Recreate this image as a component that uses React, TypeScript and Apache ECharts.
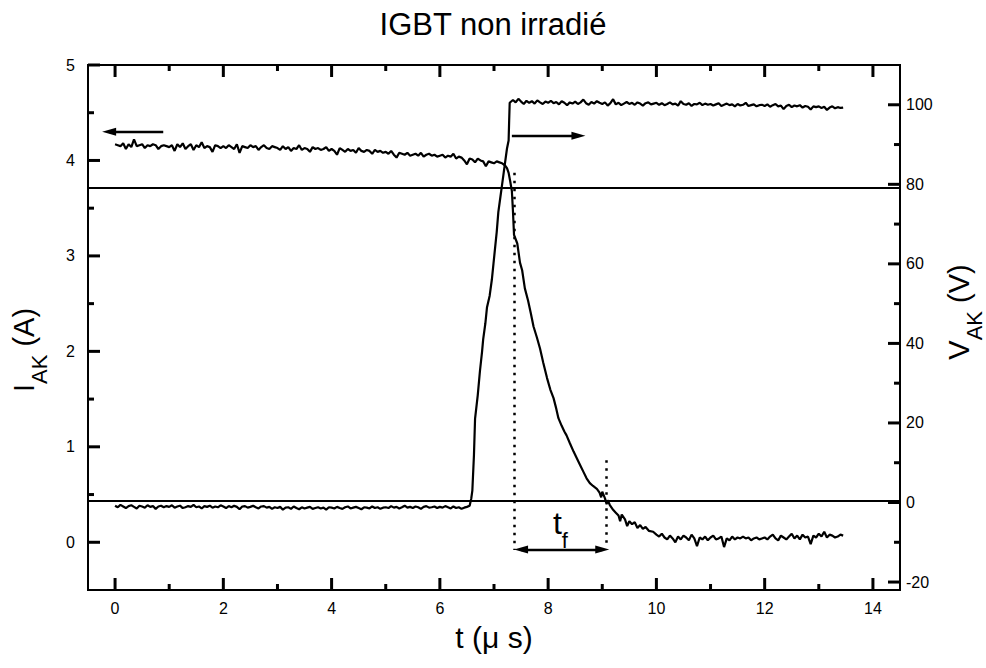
import React, { useEffect, useRef } from "react";
import * as echarts from "echarts";

const FONT = "'Liberation Sans', Arial, Helvetica, sans-serif";

// ---------- texts ----------
const TITLE = "IGBT non irradié";
const X_NAME = "t (μ s)";

// ---------- axis ranges and ticks ----------
const X_MIN = -0.5;
const X_MAX = 14.5;
const I_MIN = -0.5;
const I_MAX = 5;
const V_MIN = -22;
const V_MAX = 110;
const X_MAJOR = [0, 2, 4, 6, 8, 10, 12, 14];
const X_MINOR = [1, 3, 5, 7, 9, 11, 13];
const I_MAJOR = [0, 1, 2, 3, 4, 5];
const I_MINOR = [0.5, 1.5, 2.5, 3.5, 4.5];
const V_MAJOR = [-20, 0, 20, 40, 60, 80, 100];
const V_MINOR = [-10, 10, 30, 50, 70, 90];

// ---------- oscilloscope sampling ----------
const SAMPLE_DT = 0.05; // µs between samples of the flat parts

// Current I_AK (A): on-state plateau, samples from t = 0.00 to 7.10
const I_PLATEAU_START = 0;
const I_PLATEAU = [
  4.17, 4.16, 4.15, 4.18, 4.12, 4.17, 4.14, 4.22, 4.15, 4.16, 4.17, 4.13, 4.16, 4.15, 4.17, 4.16, 4.12, 4.15, 4.16, 4.15,
  4.14, 4.16, 4.1, 4.17, 4.14, 4.18, 4.12, 4.15, 4.17, 4.11, 4.16, 4.14, 4.19, 4.13, 4.15, 4.14, 4.09, 4.16, 4.15, 4.13,
  4.15, 4.13, 4.16, 4.14, 4.12, 4.17, 4.08, 4.15, 4.14, 4.13, 4.16, 4.14, 4.15, 4.11, 4.14, 4.16, 4.13, 4.12, 4.15, 4.14,
  4.13, 4.11, 4.15, 4.12, 4.14, 4.1, 4.13, 4.12, 4.16, 4.11, 4.13, 4.12, 4.09, 4.14, 4.12, 4.13, 4.11, 4.12, 4.14, 4.1,
  4.12, 4.1, 4.06, 4.13, 4.11, 4.09, 4.12, 4.1, 4.11, 4.08, 4.13, 4.1, 4.09, 4.11, 4.1, 4.07, 4.11, 4.09, 4.1, 4.08,
  4.09, 4.07, 4.1, 4.06, 4.03, 4.08, 4.07, 4.06, 4.08, 4.05, 4.06, 4.07, 4.05, 4.08, 4.04, 4.06, 4.07, 4.05, 4.06, 4.04,
  4.05, 4.06, 4.03, 4.05, 4.04, 4.07, 4.02, 4.04, 4.03, 4.0, 3.96, 4.02, 4.01, 3.98, 4.02, 4.0, 3.99, 3.94, 3.99, 3.98,
  3.97, 3.99, 3.98,
];
// Current fall (t µs, I A)
const I_FALL = [
  [7.15, 3.97], [7.2, 3.95], [7.24, 3.92], [7.27, 3.87], [7.3, 3.78], [7.33, 3.68], [7.35, 3.47], [7.37, 3.22],
  [7.43, 3.13], [7.48, 2.93], [7.52, 2.85], [7.57, 2.66], [7.63, 2.53], [7.68, 2.4], [7.73, 2.26], [7.79, 2.15],
  [7.85, 2.03], [7.91, 1.88], [7.98, 1.72], [8.04, 1.6], [8.1, 1.51], [8.15, 1.4], [8.19, 1.3], [8.25, 1.22],
  [8.3, 1.16], [8.34, 1.12], [8.4, 1.04], [8.47, 0.95], [8.53, 0.88], [8.59, 0.81], [8.65, 0.74], [8.71, 0.67],
  [8.77, 0.62], [8.83, 0.59], [8.9, 0.56], [8.95, 0.52], [8.98, 0.47], [9.0, 0.53], [9.05, 0.46], [9.08, 0.4],
  [9.1, 0.44], [9.14, 0.39], [9.2, 0.34], [9.25, 0.31], [9.3, 0.28], [9.33, 0.22], [9.36, 0.29], [9.42, 0.24],
  [9.46, 0.17], [9.5, 0.22], [9.55, 0.19], [9.6, 0.21], [9.65, 0.15], [9.7, 0.18], [9.75, 0.14], [9.8, 0.16],
  [9.86, 0.12], [9.94, 0.11], [10.0, 0.08],
];
// Current tail, samples from t = 10.05 to 13.45
const I_TAIL_START = 10.05;
const I_TAIL = [
  0.06, 0.09, 0.05, 0.03, 0.07, 0.04, 0.0, 0.06, 0.03, 0.07, 0.05, 0.02, 0.08, 0.04, -0.04, 0.05, 0.03, 0.06, 0.02,
  0.05, 0.07, 0.03, 0.04, 0.06, -0.05, 0.04, 0.02, 0.06, 0.03, 0.05, 0.04, 0.06, 0.04, 0.05, 0.02, 0.04, 0.05, 0.03, 0.04,
  0.05, 0.03, 0.06, 0.08, 0.04, 0.02, 0.07, 0.05, 0.03, 0.06, 0.09, 0.04, 0.07, 0.03, 0.08, 0.05, 0.06, -0.02, 0.07, 0.05,
  0.09, 0.06, 0.11, 0.05, 0.08, 0.07, 0.05, 0.06, 0.08, 0.07,
];

// Voltage V_AK (V): off baseline, samples from t = 0.00 to 6.55
const V_BASE_START = 0;
const V_BASE = [
  -0.8, -1.2, -0.6, -1.0, -1.4, -0.9, -0.7, -1.1, -1.5, -0.8, -1.0, -1.3, -0.7, -1.1, -0.9, -1.6, -1.0, -0.8, -1.2, -0.9,
  -1.1, -0.7, -1.3, -1.0, -0.8, -1.4, -1.2, -0.9, -1.1, -0.6, -1.2, -1.0, -1.5, -0.9, -1.1, -0.8, -1.3, -1.0, -1.2, -0.7,
  -1.0, -1.4, -0.9, -1.2, -0.8, -1.1, -1.7, -1.0, -0.9, -1.3, -1.1, -0.8, -1.2, -1.5, -1.0, -0.9, -1.3, -1.1, -1.6, -1.2,
  -1.4, -1.1, -1.8, -1.3, -1.2, -1.6, -1.0, -1.4, -1.7, -1.2, -1.5, -1.3, -1.1, -1.6, -1.4, -1.2, -1.5, -1.3, -1.8, -1.2,
  -1.3, -1.5, -1.1, -1.4, -1.6, -1.2, -1.0, -1.5, -1.3, -1.1, -1.4, -1.7, -1.2, -1.3, -1.5, -1.0, -1.4, -1.2, -1.6, -1.3,
  -1.2, -1.4, -0.9, -1.3, -1.1, -1.5, -1.2, -0.8, -1.3, -1.1, -1.4, -1.0, -1.2, -1.6, -1.1, -0.9, -1.3, -1.2, -1.0, -1.4,
  -1.1, -1.3, -0.9, -1.2, -1.5, -1.0, -1.4, -1.2, -1.6, -1.3, -1.1, -0.8,
];
// Voltage rise (t µs, V)
const V_RISE = [
  [6.58, 1.0], [6.6, 3.0], [6.63, 12], [6.65, 21], [6.7, 27], [6.74, 33], [6.78, 38], [6.8, 41], [6.84, 45],
  [6.87, 49], [6.92, 52], [6.96, 56], [6.99, 60], [7.02, 64], [7.05, 68], [7.08, 73], [7.12, 77], [7.15, 80],
  [7.18, 83], [7.2, 85], [7.24, 89], [7.27, 91], [7.28, 96], [7.29, 100.5],
];
// Voltage plateau, samples from t = 7.30 to 13.45
const V_PLATEAU_START = 7.3;
const V_PLATEAU = [
  100.4, 101.2, 100.6, 101.5, 100.8, 100.2, 101.0, 100.5, 100.9, 100.3, 101.1, 100.6, 100.2, 100.8,
  100.5, 101.0, 100.4, 100.7, 100.1, 100.9, 100.5, 99.9, 100.6, 100.3, 100.8, 100.2, 100.6, 101.3, 100.4, 100.0, 100.7, 100.3, 100.9, 100.5,
  100.2, 100.6, 99.8, 100.4, 101.4, 100.1, 100.5, 99.9, 100.3, 100.7, 100.2, 100.5, 100.0, 100.6, 100.3, 99.8, 100.4, 100.6, 100.1, 100.3,
  100.5, 100.0, 100.4, 99.9, 100.2, 100.6, 100.1, 100.3, 99.8, 100.9, 100.2, 100.0, 100.4, 99.7, 100.2, 100.1, 100.5, 99.9, 100.3, 100.0,
  100.2, 99.8, 100.1, 100.4, 99.7, 100.0, 100.3, 99.9, 100.1, 99.6, 100.2, 99.8, 100.0, 100.5, 99.7, 99.9, 100.1, 99.6, 99.9, 100.0,
  99.7, 100.1, 99.5, 99.9, 100.2, 99.6, 99.8, 98.9, 99.7, 100.0, 99.4, 99.8, 99.6, 99.9, 99.3, 99.7, 99.5, 98.8, 99.6, 99.4,
  99.6, 99.2, 99.5, 98.7, 99.3, 99.6, 99.1, 99.4, 99.2, 99.3,
];

// ---------- annotations (data units) ----------
const LEVEL_90 = 3.71; // 90 % current level (A)
const LEVEL_10 = 0.43; // 10 % current level (A)
const TF_START = 7.37; // µs
const TF_END = 9.07; // µs
const TF_START_SPAN = [3.87, -0.08]; // dotted line, A
const TF_END_SPAN = [0.86, -0.02];
const TF_ARROW = [7.5, 9.0, -0.075]; // from t, to t, at I
const TF_LABEL_T = [8.17, 0.2];
const TF_LABEL_F = [8.31, 0.02];
const I_ARROW = [0.89, -0.11, 4.3]; // from t, to t, at I  (points to left axis)
const V_ARROW = [7.33, 8.56, 4.26]; // from t, to t, at I  (points to right axis)

function sampled(start: number, values: number[]) {
  return values.map((v, i) => [Number((start + i * SAMPLE_DT).toFixed(2)), v]);
}

const CURRENT = [...sampled(I_PLATEAU_START, I_PLATEAU), ...I_FALL, ...sampled(I_TAIL_START, I_TAIL)];
const VOLTAGE = [...sampled(V_BASE_START, V_BASE), ...V_RISE, ...sampled(V_PLATEAU_START, V_PLATEAU)];

const BLACK = "#000";
const MAJOR_LEN = 12;
const MINOR_LEN = 6;
const TICK_WIDTH = 3;

function tickLine(x1: number, y1: number, x2: number, y2: number) {
  return {
    type: "line",
    z: 100,
    silent: true,
    shape: { x1, y1, x2, y2 },
    style: { stroke: BLACK, lineWidth: TICK_WIDTH },
  };
}

export default function App() {
  const ref = useRef<HTMLDivElement>(null);

  useEffect(() => {
    if (!ref.current) return;
    const chart = echarts.init(ref.current, null, { renderer: "svg" });

    const labelStyle = { color: BLACK, fontFamily: FONT, fontSize: 16 };
    const tri = (size: number[]) => ({ symbol: "triangle", symbolSize: size });

    const subRich = {
      m: { fontSize: 29, fontFamily: FONT, color: BLACK, verticalAlign: "top" },
      s: { fontSize: 22, fontFamily: FONT, color: BLACK, verticalAlign: "top", padding: [19, 0, 0, 0] },
    };

    const axisTitles = [
      {
        type: "text",
        x: 30,
        y: 350,
        rotation: Math.PI / 2,
        style: {
          text: "{m|I}{s|AK}{m| (A)}",
          rich: subRich,
          align: "center",
          verticalAlign: "middle",
          textAlign: "center",
          textVerticalAlign: "middle",
          fill: BLACK,
        },
      },
      {
        type: "text",
        x: 965,
        y: 312,
        rotation: Math.PI / 2,
        style: {
          text: "{m|V}{s|AK}{m| (V)}",
          rich: subRich,
          align: "center",
          verticalAlign: "middle",
          textAlign: "center",
          textVerticalAlign: "middle",
          fill: BLACK,
        },
      },
    ];

    const option: any = {
      animation: false,
      backgroundColor: "#fff",
      title: {
        text: TITLE,
        left: "center",
        top: 9,
        padding: 0,
        textStyle: { fontFamily: FONT, fontSize: 31, fontWeight: "normal", color: BLACK },
      },
      grid: {
        left: 88,
        right: 86,
        top: 65,
        bottom: 78,
        containLabel: false,
        outerBoundsMode: "none",
        show: true,
        borderColor: BLACK,
        borderWidth: 2,
        backgroundColor: "rgba(0,0,0,0)",
      },
      xAxis: [
        {
          type: "value",
          min: X_MIN,
          max: X_MAX,
          position: "bottom",
          splitLine: { show: false },
          axisLine: { show: true, onZero: false, lineStyle: { color: BLACK, width: 2 } },
          axisTick: { show: false },
          axisLabel: { ...labelStyle, margin: 10, customValues: X_MAJOR },
          name: X_NAME,
          nameLocation: "middle",
          nameGap: 32,
          nameTextStyle: { fontFamily: FONT, fontSize: 30, color: BLACK, verticalAlign: "top" },
        },
      ],
      yAxis: [
        {
          type: "value",
          min: I_MIN,
          max: I_MAX,
          position: "left",
          splitLine: { show: false },
          axisLine: { show: true, onZero: false, lineStyle: { color: BLACK, width: 2 } },
          axisTick: { show: false },
          axisLabel: { ...labelStyle, margin: 13, customValues: I_MAJOR },
        },
        {
          type: "value",
          min: V_MIN,
          max: V_MAX,
          position: "right",
          splitLine: { show: false },
          axisLine: { show: true, onZero: false, lineStyle: { color: BLACK, width: 2 } },
          axisTick: { show: false },
          axisLabel: { ...labelStyle, margin: 6, customValues: V_MAJOR },
        },
      ],
      graphic: axisTitles,
      series: [
        {
          name: "I_AK",
          type: "line",
          xAxisIndex: 0,
          yAxisIndex: 0,
          data: CURRENT,
          showSymbol: false,
          symbol: "none",
          silent: true,
          lineStyle: { color: BLACK, width: 2.2 },
          markLine: {
            silent: true,
            symbol: ["none", "none"],
            label: { show: false },
            emphasis: { disabled: true },
            data: [
              { yAxis: LEVEL_90, lineStyle: { color: BLACK, width: 2, type: "solid" } },
              { yAxis: LEVEL_10, lineStyle: { color: BLACK, width: 2, type: "solid" } },
              [
                { coord: [TF_START, TF_START_SPAN[0]], lineStyle: { color: BLACK, width: 2.5, type: [2.5, 5.5] } },
                { coord: [TF_START, TF_START_SPAN[1]] },
              ],
              [
                { coord: [TF_END, TF_END_SPAN[0]], lineStyle: { color: BLACK, width: 2.5, type: [2.5, 5.5] } },
                { coord: [TF_END, TF_END_SPAN[1]] },
              ],
              [
                { coord: [TF_ARROW[0], TF_ARROW[2]], ...tri([8, 14]), lineStyle: { color: BLACK, width: 2.4, type: "solid" } },
                { coord: [TF_ARROW[1], TF_ARROW[2]], ...tri([8, 14]) },
              ],
              [
                { coord: [I_ARROW[0], I_ARROW[2]], symbol: "none", lineStyle: { color: BLACK, width: 2.4, type: "solid" } },
                { coord: [I_ARROW[1], I_ARROW[2]], ...tri([8, 14]) },
              ],
              [
                { coord: [V_ARROW[0], V_ARROW[2]], symbol: "none", lineStyle: { color: BLACK, width: 2.4, type: "solid" } },
                { coord: [V_ARROW[1], V_ARROW[2]], ...tri([8, 14]) },
              ],
            ],
          },
          markPoint: {
            silent: true,
            symbol: "circle",
            symbolSize: 1,
            itemStyle: { color: "rgba(0,0,0,0)" },
            data: [
              {
                coord: TF_LABEL_T,
                label: { show: true, position: "inside", formatter: "t", color: BLACK, fontFamily: FONT, fontSize: 32 },
              },
              {
                coord: TF_LABEL_F,
                label: { show: true, position: "inside", formatter: "f", color: BLACK, fontFamily: FONT, fontSize: 22 },
              },
            ],
          },
        },
        {
          name: "V_AK",
          type: "line",
          xAxisIndex: 0,
          yAxisIndex: 1,
          data: VOLTAGE,
          showSymbol: false,
          symbol: "none",
          silent: true,
          lineStyle: { color: BLACK, width: 2.2 },
        },
      ],
    };

    chart.setOption(option);

    // Inward ticks, placed through the chart's own axis scales.
    const px = (v: number) => chart.convertToPixel({ xAxisIndex: 0 }, v) as number;
    const pyI = (v: number) => chart.convertToPixel({ yAxisIndex: 0 }, v) as number;
    const pyV = (v: number) => chart.convertToPixel({ yAxisIndex: 1 }, v) as number;
    const left = px(X_MIN);
    const right = px(X_MAX);
    const bottom = pyI(I_MIN);
    const top = pyI(I_MAX);
    const ticks: any[] = [];
    const addX = (vals: number[], len: number) =>
      vals.forEach((v) => {
        const x = px(v);
        ticks.push(tickLine(x, bottom, x, bottom - len));
        ticks.push(tickLine(x, top, x, top + len));
      });
    const addI = (vals: number[], len: number) =>
      vals.forEach((v) => {
        const y = pyI(v);
        ticks.push(tickLine(left, y, left + len, y));
      });
    const addV = (vals: number[], len: number) =>
      vals.forEach((v) => {
        const y = pyV(v);
        ticks.push(tickLine(right, y, right - len, y));
      });
    addX(X_MAJOR, MAJOR_LEN);
    addX(X_MINOR, MINOR_LEN);
    addI(I_MAJOR, MAJOR_LEN);
    addI(I_MINOR, MINOR_LEN);
    addV(V_MAJOR, MAJOR_LEN);
    addV(V_MINOR, MINOR_LEN);

    chart.setOption({ graphic: [...axisTitles, ...ticks] });

    return () => chart.dispose();
  }, []);

  return (
    <div
      ref={ref}
      style={{ position: "fixed", left: 0, top: 0, width: 986, height: 668, background: "#fff" }}
    />
  );
}
